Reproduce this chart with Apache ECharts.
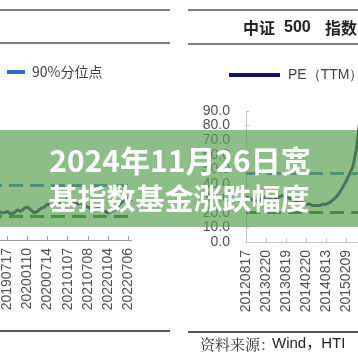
<!DOCTYPE html>
<html><head><meta charset="utf-8">
<script src="https://cdn.jsdelivr.net/npm/echarts@6/dist/echarts.min.js"></script>
<style>html,body{margin:0;padding:0;background:#fff;overflow:hidden;width:358px;height:358px}
#c{position:absolute;left:-40px;top:0;width:418px;height:358px}</style>
</head><body><div id="c"></div>
<script>
// ---------- left panel (cut off) ----------
const leftDates = ['20180717','20180816','20180917','20181017','20181116','20181217',
 '20190117','20190218','20190318','20190417','20190517','20190617',
 '20190717','20190816','20190917','20191017','20191115','20191216',
 '20200110','20200217','20200317','20200417','20200518','20200617',
 '20200714','20200814','20200916','20201016','20201116','20201216',
 '20210107','20210208','20210308','20210408','20210510','20210608',
 '20210708','20210809','20210908','20211008','20211108','20211208',
 '20220104','20220208','20220308','20220408','20220509','20220608',
 '20220706','20220805'];
const leftPE = [20,18,17,16,15,15,16,19,22,21,19,19,
 20,18,19,21,20,22,23,21,19,20,22,23,
 25,24,25,24,26,27,29,27,26,25,26,24,
 23,22,21,22,21,20,19,20,21,24,26,28,29,27];
const leftP90 = 38;
const leftP10 = 16.5;
const leftLegend = ['90%分位点'];

// ---------- right panel ----------
const rightDates = ['20120817','20120917','20121017','20121116','20121217','20130117',
 '20130220','20130318','20130417','20130517','20130617','20130717',
 '20130819','20130917','20131017','20131115','20131217','20140117',
 '20140220','20140317','20140417','20140519','20140617','20140717',
 '20140813','20140917','20141017','20141117','20141217','20150116',
 '20150209','20150317','20150417','20150518','20150617','20150717','20150810'];
const rightPE = [31,30,29,28,29,30,31,30,29,30,31,32,31,30,29,28,27,27,
 26,26,25,25,25,26,26,27,29,31,34,38,42,47,52,64,82,66,55];
const rightP90 = 47.5;
const rightP10 = 20.5;
const rightLegend = ['PE（TTM）'];
const yMin = 0, yMax = 90, yStep = 10;

const OFF = 40;   // canvas is shifted 40px to the left of the page
const W = 418;
const FONT = '"Liberation Sans", Arial, sans-serif';
const CJK = '"Noto Sans CJK SC", sans-serif';
const axisGray = '#9a9a9a';

const chart = echarts.init(document.getElementById('c'), null, {renderer: 'canvas'});

function xAxisCfg(idx, cats, color) {
  return {
    type: 'category', gridIndex: idx, data: cats, boundaryGap: false,
    axisLine: {lineStyle: {color: color, width: 1}},
    axisTick: {inside: true, length: 4, interval: 5, lineStyle: {color: color}},
    axisLabel: {interval: 5, rotate: 90, margin: 8, fontSize: 14, color: '#505050', fontFamily: FONT}
  };
}
function pctLine(color, v) {
  return {silent: true, symbol: 'none', label: {show: false},
    lineStyle: {color: color, width: 3, type: [14, 7]}, data: [{yAxis: v}]};
}

const option = {
  animation: false,
  backgroundColor: '#fff',
  grid: [
    {left: 0, right: W - (131.5 + OFF), top: 111, bottom: 118},
    {left: 246 + OFF, right: W - (366.4 + OFF), top: 111, bottom: 116}
  ],
  xAxis: [xAxisCfg(0, leftDates, axisGray), xAxisCfg(1, rightDates, '#c4c4c4')],
  yAxis: [
    {type: 'value', gridIndex: 0, min: yMin, max: yMax, interval: yStep, splitLine: {show: false},
     axisLine: {show: true, lineStyle: {color: axisGray}}, axisLabel: {show: false}},
    {type: 'value', gridIndex: 1, min: yMin, max: yMax, interval: yStep, splitLine: {show: false},
     axisLine: {show: true, lineStyle: {color: '#c4c4c4'}},
     axisTick: {show: true, inside: true, length: 3, lineStyle: {color: '#c4c4c4'}},
     axisLabel: {margin: 16, fontSize: 14, color: '#505050', fontFamily: FONT,
       formatter: v => v.toFixed(1)}}
  ],
  legend: [
    {data: leftLegend, left: 7 + OFF, top: 65, padding: 0, icon: 'rect', itemWidth: 18, itemHeight: 4,
     textStyle: {fontSize: 14, color: '#404040', fontFamily: CJK, padding: [0, 0, 0, 2]}},
    {data: rightLegend, left: 229 + OFF, top: 68, padding: 0, icon: 'rect', itemWidth: 51, itemHeight: 4,
     textStyle: {fontSize: 14, color: '#404040', fontFamily: FONT, padding: [0, 0, 0, 3]}}
  ],
  series: [
    {name: 'PE', type: 'line', xAxisIndex: 0, yAxisIndex: 0, data: leftPE, showSymbol: false,
     lineStyle: {color: '#10106e', width: 3}, itemStyle: {color: '#10106e'}},
    {name: '90%分位点', type: 'line', xAxisIndex: 0, yAxisIndex: 0, data: [], showSymbol: false,
     itemStyle: {color: '#2a6ebb'}, lineStyle: {color: '#2a6ebb'}, markLine: pctLine('#2a6ebb', leftP90)},
    {name: '10%分位点L', type: 'line', xAxisIndex: 0, yAxisIndex: 0, data: [], showSymbol: false,
     itemStyle: {color: '#1d5a1a'}, markLine: pctLine('#1d5a1a', leftP10)},
    {name: 'PE（TTM）', type: 'line', xAxisIndex: 1, yAxisIndex: 1, data: rightPE, showSymbol: false,
     lineStyle: {color: '#10106e', width: 3}, itemStyle: {color: '#10106e'}},
    {name: '90%分位点R', type: 'line', xAxisIndex: 1, yAxisIndex: 1, data: [], showSymbol: false,
     itemStyle: {color: '#2a6ebb'}, markLine: pctLine('#2a6ebb', rightP90)},
    {name: '10%分位点R', type: 'line', xAxisIndex: 1, yAxisIndex: 1, data: [], showSymbol: false,
     itemStyle: {color: '#1d5a1a'}, markLine: pctLine('#1d5a1a', rightP10)}
  ],
  graphic: [{
    type: 'group', x: OFF, y: 0, children: [
      // left panel rules
      {type: 'line', z: 50, shape: {x1: -OFF, y1: 10, x2: 170, y2: 10}, style: {stroke: '#555', lineWidth: 1.5}},
      {type: 'line', z: 50, shape: {x1: -OFF, y1: 43, x2: 170, y2: 43}, style: {stroke: '#555', lineWidth: 1.5}},
      {type: 'line', z: 50, shape: {x1: -OFF, y1: 331, x2: 170, y2: 331}, style: {stroke: '#555', lineWidth: 2}},
      // right panel rules
      {type: 'line', z: 50, shape: {x1: 188, y1: 10, x2: 378, y2: 10}, style: {stroke: '#555', lineWidth: 1.5}},
      {type: 'line', z: 50, shape: {x1: 188, y1: 44, x2: 378, y2: 44}, style: {stroke: '#555', lineWidth: 1.5}},
      {type: 'line', z: 50, shape: {x1: 188, y1: 332, x2: 378, y2: 332}, style: {stroke: '#555', lineWidth: 2}},
      // right title
      {type: 'text', z: 50, style: {text: '中证', x: 243, y: 28, verticalAlign: 'middle',
        font: 'bold 16px "Noto Sans CJK SC"', fill: '#222'}},
      {type: 'text', z: 50, style: {text: '500', x: 284, y: 28, verticalAlign: 'middle',
        font: 'bold 16px ' + FONT, fill: '#222'}},
      {type: 'text', z: 50, style: {text: '指数的 PE 走势', x: 325, y: 28, verticalAlign: 'middle',
        font: 'bold 16px "Noto Sans CJK SC"', fill: '#222'}},
      // source
      {type: 'text', z: 50, style: {text: '资料来源：', x: 200, y: 344, verticalAlign: 'middle',
        font: '15px "Noto Serif CJK SC", "Noto Sans CJK SC"', fill: '#333'}},
      {type: 'text', z: 50, style: {text: 'Wind，HTI', x: 272, y: 344, verticalAlign: 'middle',
        font: '15px ' + FONT + ', "Noto Sans CJK SC"', fill: '#222'}},
      // green overlay band
      {type: 'rect', z: 100, shape: {x: -OFF, y: 130, width: W, height: 97},
       style: {fill: 'rgba(92,162,84,0.7)'}},
      {type: 'text', z: 101, style: {text: '2024年11月26日宽', x: 180, y: 161, align: 'center',
        verticalAlign: 'middle', font: 'bold 30px "Noto Sans CJK SC"', fill: '#fff'}},
      {type: 'text', z: 101, style: {text: '基指数基金涨跌幅度', x: 179, y: 199, align: 'center',
        verticalAlign: 'middle', font: 'bold 29px "Noto Sans CJK SC"', fill: '#fff'}}
    ]
  }]
};
chart.setOption(option);
</script>
</body></html>
